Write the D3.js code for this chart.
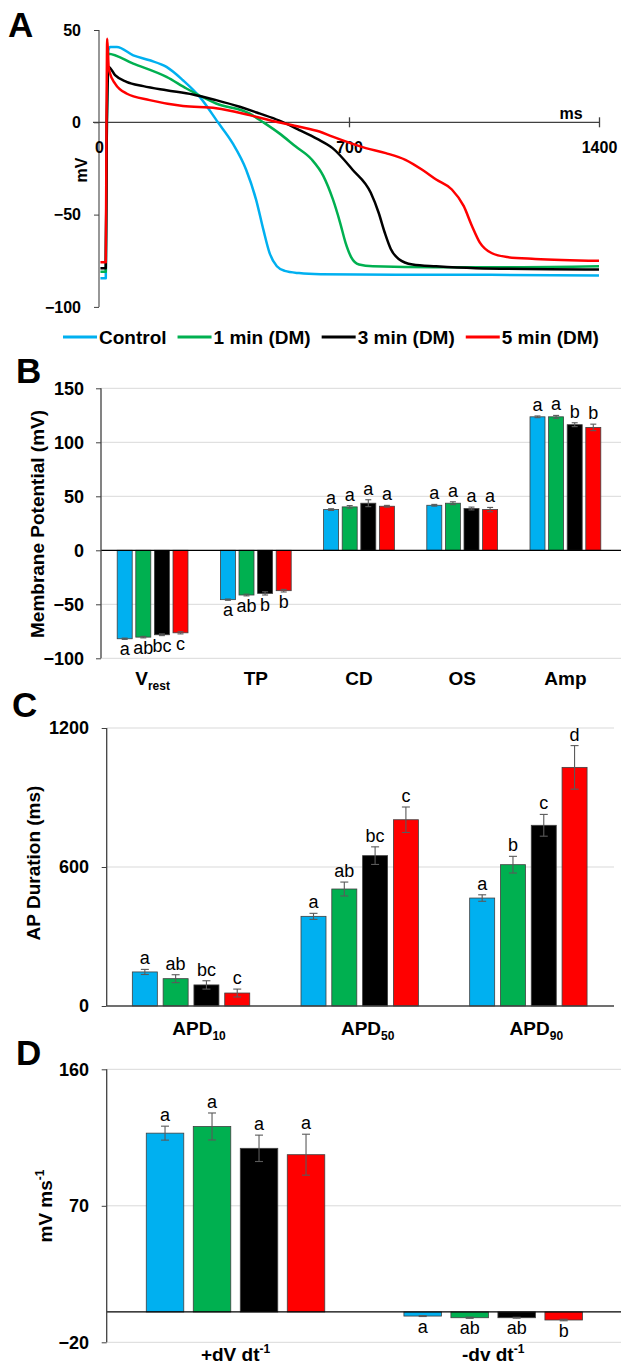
<!DOCTYPE html>
<html>
<head>
<meta charset="utf-8">
<script src="https://cdnjs.cloudflare.com/ajax/libs/d3/7.8.5/d3.min.js"></script>
<style>
  body { margin: 0; background: #fff; }
  svg { display: block; font-family: "Liberation Sans", Arial, sans-serif; }
  .panel { font-size: 35px; font-weight: bold; }
  .tick text { font-size: 18px; font-weight: bold; fill: #000; font-family: "Liberation Sans", Arial, sans-serif; }
  .cat { font-size: 19px; font-weight: bold; }
  .ytitle { font-size: 19px; font-weight: bold; }
  .letter { font-size: 18px; }
  .legend { font-size: 19px; font-weight: bold; }
</style>
</head>
<body>
<script>
const groups = ['Control', '1 min (DM)', '3 min (DM)', '5 min (DM)'];
const colors = ['#00b0f0', '#00b050', '#000000', '#ff0000'];

// panel A, action potential traces: [ms, mV]
const traceControl = [[4,-84.5],[19,-84.5],[22,0],[26,39],[31,40.8],[50,40.8],[96,36.3],[142,33.6],[189,30],[235,22.8],[282,13.8],[333,0],[374,-11.3],[412,-25.7],[440,-42],[460,-58],[478,-71],[498,-78],[520,-80.5],[560,-81.7],[620,-82.3],[830,-82.6],[1050,-82.6],[1400,-83]];
const trace1min = [[4,-81],[19,-81],[22,0],[25,37.2],[96,31.8],[189,24.6],[245,18.3],[328,10.2],[421,4.8],[460,0],[505,-6],[550,-13],[595,-20],[628,-29],[655,-41.8],[675,-54.3],[690,-65],[706,-73],[728,-77],[767,-78],[944,-78.5],[1165,-78.5],[1400,-78]];
const trace3min = [[4,-79],[19,-79],[22,0],[27,30],[45,25.5],[77,21.9],[124,19.6],[189,17.4],[263,15.1],[328,12],[394,8.4],[449,4.8],[505,0.9],[561,-4.2],[611,-9],[654,-14],[710,-25.7],[761,-38.2],[783,-49],[800,-59.7],[817,-68.6],[839,-74],[878,-77],[944,-78],[1055,-79],[1400,-79.7]];
const trace5min = [[4,-75.8],[19,-75.8],[21,0],[23,45.3],[27,30],[31,26.4],[45,21],[77,15.6],[142,12],[235,8.8],[328,7.6],[421,3.9],[496,0.3],[561,-2.4],[617,-5],[654,-7.8],[747,-14],[803,-16.7],[858,-20.3],[905,-25.7],[944,-31],[988,-36.4],[1021,-45.3],[1044,-56],[1066,-65],[1099,-70.8],[1143,-73],[1221,-74],[1400,-75]];
const aYTicks = [-100, -50, 0, 50];
const aXTicks = [0, 700, 1400];

// panel B, membrane potential (mV)
const bCats = ['Vrest', 'TP', 'CD', 'OS', 'Amp'];
const bLabels = [['V', 'rest', ''], ['TP', '', ''], ['CD', '', ''], ['OS', '', ''], ['Amp', '', '']];
const bMeans = [
  [-81.9, -45.7, 37.7, 41.7, 123.6],
  [-80.4, -41.4, 40.2, 43.6, 123.6],
  [-78.2, -39.9, 43.6, 38.7, 116.3],
  [-76.4, -37.4, 40.8, 37.7, 113.8]
];
const bErrs = [
  [0.6, 0.6, 0.8, 0.8, 0.8],
  [0.7, 0.8, 1.2, 1.3, 1.3],
  [0.8, 1.5, 3.2, 1.3, 1.8],
  [1.0, 1.2, 0.8, 2.0, 3.0]
];
const bLetters = [
  ['a', 'a', 'a', 'a', 'a'],
  ['ab', 'ab', 'a', 'a', 'a'],
  ['bc', 'b', 'a', 'a', 'b'],
  ['c', 'b', 'a', 'a', 'b']
];
const bTicks = [-100, -50, 0, 50, 100, 150];

// panel C, AP duration (ms)
const cCats = ['APD10', 'APD50', 'APD90'];
const cLabels = [['APD', '10', ''], ['APD', '50', ''], ['APD', '90', '']];
const cMeans = [
  [147, 387, 466],
  [118, 505, 610],
  [91, 649, 780],
  [56, 804, 1030]
];
const cErrs = [
  [11, 13, 14],
  [17, 30, 36],
  [18, 38, 47],
  [17, 55, 94]
];
const cLetters = [
  ['a', 'a', 'a'],
  ['ab', 'ab', 'b'],
  ['bc', 'bc', 'c'],
  ['c', 'c', 'd']
];
const cTicks = [0, 600, 1200];

// panel D, dV/dt (mV ms-1)
const dCats = ['up', 'down'];
const dLabels = [['+dV dt', '', '-1'], ['-dv dt', '', '-1']];
const dMeans = [
  [117.9, -2.7],
  [122.3, -3.8],
  [107.9, -3.8],
  [103.7, -5.3]
];
const dErrs = [
  [4.6, 0.3],
  [8.9, 0.4],
  [8.7, 0.3],
  [13.5, 0.5]
];
const dLetters = [
  ['a', 'a'],
  ['a', 'ab'],
  ['a', 'ab'],
  ['a', 'b']
];
const dTicks = [-20, 70, 160];

const fmt = d3.format('d');

const svg = d3.select('body').append('svg')
  .attr('width', 621)
  .attr('height', 1367);

function panelLetter(t, x, y) {
  svg.append('text').attr('class', 'panel').attr('x', x).attr('y', y).text(t);
}

function richText(sel, parts) {
  sel.append('tspan').text(parts[0]);
  if (parts[1]) sel.append('tspan').attr('font-size', '12px').attr('dy', 5).text(parts[1]);
  if (parts[2]) sel.append('tspan').attr('font-size', '12px').attr('dy', -8).text(parts[2]);
}

function styleAxis(g) {
  g.attr('font-family', null).attr('font-size', null);
  g.select('.domain').remove();
  g.selectAll('.tick line').attr('stroke', '#404040');
}

function renderTraces() {
  const x = d3.scaleLinear().domain([0, 1400]).range([99, 599]);
  const y = d3.scaleLinear().domain([-100, 50]).range([306.9, 30]);
  const g = svg.append('g');

  // y axis
  g.append('line')
    .attr('x1', 99).attr('x2', 99)
    .attr('y1', y(50)).attr('y2', y(-100))
    .attr('stroke', '#606060').attr('stroke-width', 1.3);
  g.append('g')
    .attr('transform', 'translate(99,0)')
    .call(d3.axisLeft(y).tickValues(aYTicks).tickFormat(fmt).tickSize(5).tickPadding(13))
    .call(styleAxis)
    .selectAll('text').style('font-size', '16px');

  // x axis at 0 mV
  g.append('line')
    .attr('x1', 93).attr('x2', x(1400))
    .attr('y1', y(0)).attr('y2', y(0))
    .attr('stroke', '#404040').attr('stroke-width', 1.3);
  const xa = g.append('g')
    .attr('transform', `translate(0,${y(0)})`)
    .call(d3.axisBottom(x).tickValues(aXTicks).tickFormat(fmt).tickSize(5).tickPadding(14))
    .call(styleAxis);
  xa.selectAll('.tick line').attr('y1', -5).attr('stroke-width', 1.3)
    .filter(d => d === 0).remove();
  xa.selectAll('text').style('font-size', '16px');

  g.append('text')
    .attr('x', 571).attr('y', 119)
    .attr('text-anchor', 'middle')
    .style('font-size', '16px').style('font-weight', 'bold')
    .text('ms');

  g.append('text')
    .attr('transform', 'translate(81,170) rotate(-90)')
    .attr('text-anchor', 'middle').attr('dy', '0.35em')
    .style('font-size', '16px').style('font-weight', 'bold')
    .text('mV');

  const line = d3.line()
    .x(d => x(d[0]))
    .y(d => y(d[1]))
    .curve(d3.curveMonotoneX);

  [traceControl, trace1min, trace3min, trace5min].forEach((tr, i) => {
    g.append('path')
      .attr('d', line(tr))
      .attr('fill', 'none')
      .attr('stroke', colors[i])
      .attr('stroke-width', 2.5)
      .attr('stroke-linejoin', 'round');
  });

  // legend
  let lx = 63;
  groups.forEach((name, i) => {
    g.append('line')
      .attr('x1', lx).attr('x2', lx + 34)
      .attr('y1', 337).attr('y2', 337)
      .attr('stroke', colors[i]).attr('stroke-width', 3);
    const t = g.append('text')
      .attr('class', 'legend')
      .attr('x', lx + 36).attr('y', 344)
      .text(name);
    lx += 36 + t.node().getComputedTextLength() + 11;
  });
}

function barPanel(o) {
  const x0 = d3.scaleBand().domain(o.cats).range([o.left, o.right]);
  const pi = 1 - o.barW / o.barStep;
  const po = (x0.bandwidth() / o.barStep - 4 + pi) / 2;
  const x1 = d3.scaleBand().domain(groups)
    .range([0, x0.bandwidth()])
    .paddingInner(pi).paddingOuter(po);
  const y = d3.scaleLinear().domain(o.domain).range([o.bottom, o.top]);
  const g = svg.append('g');

  const rows = [];
  o.cats.forEach((c, ci) => {
    groups.forEach((grp, gi) => {
      rows.push({c, grp, gi, v: o.means[gi][ci], e: o.errs[gi][ci], l: o.letters[gi][ci]});
    });
  });

  // gridlines
  g.append('g').selectAll('line')
    .data(o.ticks.filter(t => t !== 0))
    .enter().append('line')
    .attr('x1', o.left).attr('x2', o.gridRight)
    .attr('y1', d => y(d)).attr('y2', d => y(d))
    .attr('stroke', '#d9d9d9').attr('stroke-width', 1);

  // bars
  g.append('g').selectAll('rect')
    .data(rows)
    .enter().append('rect')
    .attr('x', d => x0(d.c) + x1(d.grp))
    .attr('width', x1.bandwidth())
    .attr('y', d => y(Math.max(d.v, 0)))
    .attr('height', d => Math.abs(y(d.v) - y(0)))
    .attr('fill', d => colors[d.gi])
    .attr('stroke', '#404040').attr('stroke-width', 0.8);

  // zero line
  g.append('line')
    .attr('x1', o.left).attr('x2', o.gridRight)
    .attr('y1', y(0)).attr('y2', y(0))
    .attr('stroke', o.zeroColor).attr('stroke-width', 1.3);

  // error bars
  const eb = g.append('g').attr('stroke', '#5a5a5a').attr('stroke-width', 1.1);
  rows.forEach(d => {
    const cx = x0(d.c) + x1(d.grp) + x1.bandwidth() / 2;
    eb.append('line').attr('x1', cx).attr('x2', cx).attr('y1', y(d.v - d.e)).attr('y2', y(d.v + d.e));
    [d.v - d.e, d.v + d.e].forEach(vv => {
      eb.append('line').attr('x1', cx - o.cap).attr('x2', cx + o.cap).attr('y1', y(vv)).attr('y2', y(vv));
    });
  });

  // significance letters
  g.append('g').selectAll('text')
    .data(rows)
    .enter().append('text')
    .attr('class', 'letter')
    .attr('text-anchor', 'middle')
    .attr('x', d => x0(d.c) + x1(d.grp) + x1.bandwidth() / 2)
    .attr('y', d => d.v >= 0 ? y(d.v + d.e) - 5 : y(d.v - d.e) + 16)
    .text(d => d.l);

  // y axis
  g.append('line')
    .attr('x1', o.left).attr('x2', o.left)
    .attr('y1', o.top).attr('y2', o.bottom)
    .attr('stroke', '#404040').attr('stroke-width', 1.3);
  g.append('g')
    .attr('transform', `translate(${o.left},0)`)
    .call(d3.axisLeft(y).tickValues(o.ticks).tickFormat(fmt).tickSize(5).tickPadding(o.pad))
    .call(styleAxis);

  // category labels
  o.cats.forEach((c, ci) => {
    const t = g.append('text')
      .attr('class', 'cat')
      .attr('text-anchor', 'middle')
      .attr('x', x0(c) + x0.bandwidth() / 2 + o.catShift)
      .attr('y', o.catY);
    richText(t, o.labels[ci]);
  });

  const tt = g.append('text')
    .attr('class', 'ytitle')
    .attr('text-anchor', 'middle')
    .attr('dy', '0.35em')
    .attr('transform', `translate(${o.titleX},${o.titleY}) rotate(-90)`);
  richText(tt, o.title);
}

panelLetter('A', 8, 37);
renderTraces();

panelLetter('B', 16, 383);
barPanel({
  cats: bCats, labels: bLabels, means: bMeans, errs: bErrs, letters: bLetters,
  domain: [-100, 150], ticks: bTicks,
  left: 101, right: 617, top: 388.3, bottom: 658.3, gridRight: 621,
  barW: 15, barStep: 18.6, cap: 3, pad: 12, zeroColor: '#000',
  catY: 685, catShift: 0,
  title: ['Membrane Potential (mV)', '', ''], titleX: 37, titleY: 524
});

panelLetter('C', 12, 717);
barPanel({
  cats: cCats, labels: cLabels, means: cMeans, errs: cErrs, letters: cLetters,
  domain: [0, 1200], ticks: cTicks,
  left: 106.7, right: 612.7, top: 728, bottom: 1006, gridRight: 614,
  barW: 25, barStep: 30.8, cap: 4, pad: 12.7, zeroColor: '#404040',
  catY: 1035, catShift: 8,
  title: ['AP Duration (ms)', '', ''], titleX: 33, titleY: 863
});

panelLetter('D', 16, 1065);
barPanel({
  cats: dCats, labels: dLabels, means: dMeans, errs: dErrs, letters: dLetters,
  domain: [-20, 160], ticks: dTicks,
  left: 106.7, right: 622, top: 1069.3, bottom: 1342.3, gridRight: 621,
  barW: 37.5, barStep: 47, cap: 4, pad: 12.7, zeroColor: '#000',
  catY: 1361, catShift: 0,
  title: ['mV ms', '', '-1'], titleX: 45, titleY: 1206
});
</script>
</body>
</html>
